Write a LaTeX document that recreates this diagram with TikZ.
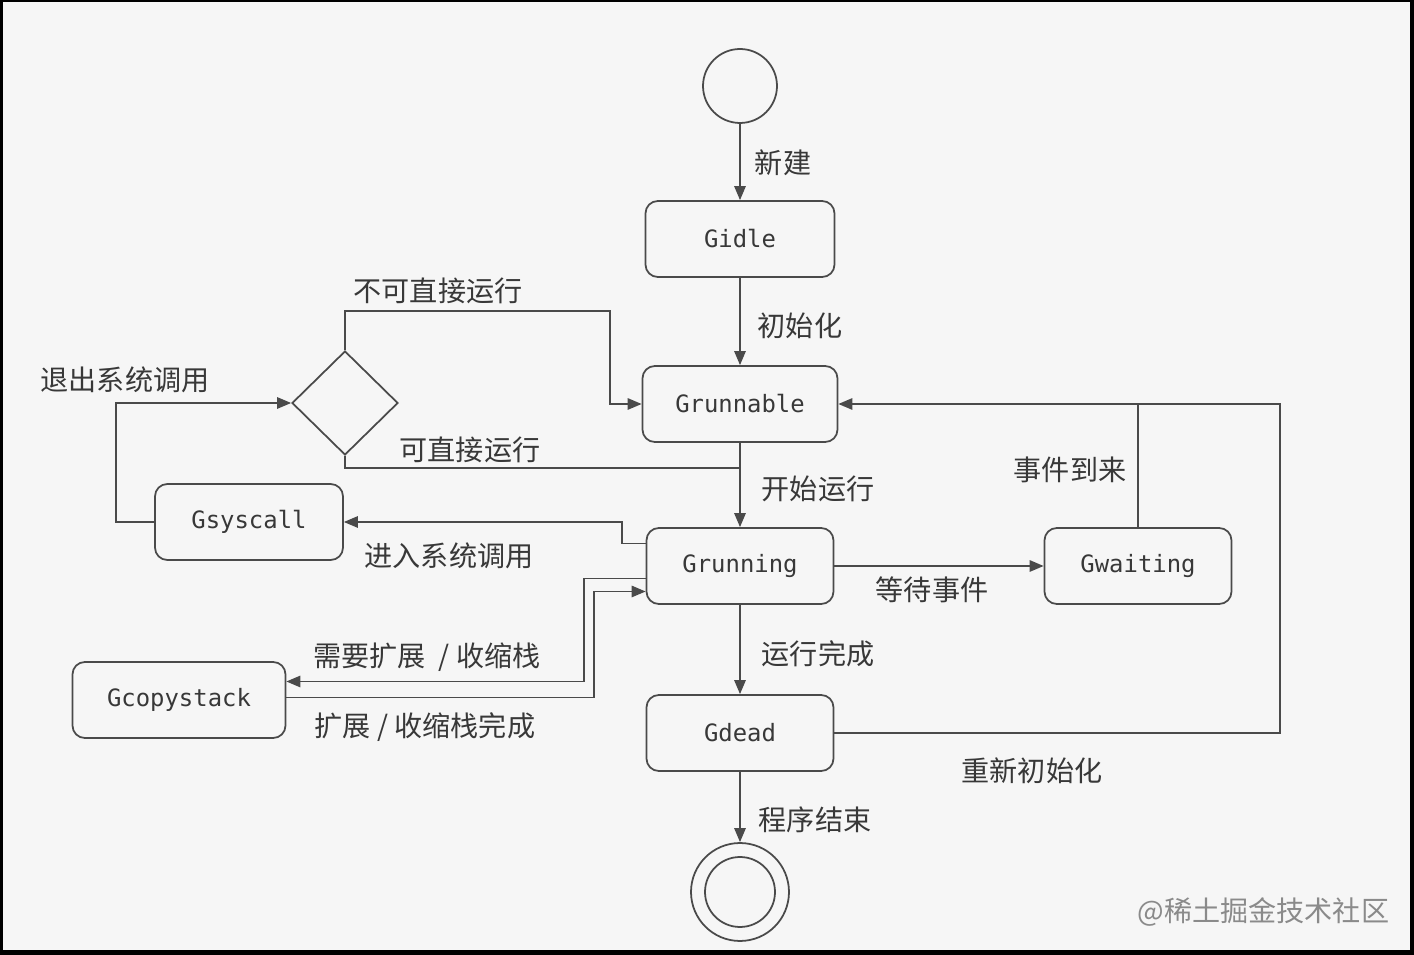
\documentclass[tikz,border=0pt]{standalone}
\usepackage{fontspec}
\setmonofont{DejaVu Sans Mono}
\newfontfamily\cjk{Noto Sans CJK SC}
\usetikzlibrary{arrows.meta,shapes.geometric}
\definecolor{ink}{HTML}{4A4A4A}
\definecolor{txt}{HTML}{383838}
\definecolor{paper}{HTML}{F6F6F6}
\definecolor{mark}{HTML}{8A8A8A}
\begin{document}
\begin{tikzpicture}[x=0.02cm,y=-0.02cm,
  color=ink, line width=1pt,
  arr/.style={-{Triangle[length=8pt,width=6.5pt]}},
  state/.style={draw, rounded corners=7pt, inner sep=0pt,
    minimum width=3.74cm, minimum height=1.52cm,
    font=\ttfamily\fontsize{13.6}{16}\selectfont, text=txt},
  lbl/.style={font=\cjk\fontsize{16}{19}\selectfont, text=txt, inner sep=0pt},
  pseudo/.style={draw, inner sep=0pt},
]
% frame and paper
\fill[black] (0,0) rectangle (1414,955);
\fill[paper] (3,2) rectangle (1410,950);
\useasboundingbox (0,0) rectangle (1414,955);

% states
\node[pseudo, circle, minimum size=1.48cm] (start) at (740,86) {};
\node[state, minimum width=3.78cm] (gidle) at (740,239) {Gidle};
\node[state, minimum width=3.9cm] (grunnable) at (740,404) {Grunnable};
\node[state] (grunning) at (740,566) {Grunning};
\node[state] (gwaiting) at (1138,566) {Gwaiting};
\node[state] (gdead) at (740,733) {Gdead};
\node[state, minimum width=3.76cm] (gsys) at (249,522) {Gsyscall};
\node[state, minimum width=4.26cm] (gcopy) at (179,700) {Gcopystack};
\node[pseudo, diamond, minimum width=2.12cm, minimum height=2.08cm] (dia) at (345,403) {};
\node[pseudo, circle, minimum size=1.96cm] (end) at (740,892) {};
\node[pseudo, circle, minimum size=1.4cm] (endin) at (740,892) {};

% main column
\draw[arr] (start) -- (gidle);
\draw[arr] (gidle) -- (grunnable);
\draw[arr] (grunnable) -- (grunning);
\draw[arr] (grunning) -- (gdead);
\draw[arr] (gdead) -- (end);

% waiting and re-initialisation
\draw[arr] (grunning) -- (gwaiting);
\draw (gwaiting.north) -- (gwaiting.north |- grunnable.east);
\draw[arr] (gdead.east) -- ++(446,0) |- (grunnable.east);

% decision after leaving the system call
\draw[arr] (dia.north) |- (610,311) |- (grunnable.west);
\draw (dia.south) |- (grunnable.south |- 0,468);
\draw[arr] (gsys.west) -- ++(-38,0) |- (dia.west);

% system call and stack copy
\draw[arr] ([yshift=0.45cm]grunning.west) -- ++(-24,0) |- (gsys.east);
\draw[arr] ([yshift=-0.25cm]grunning.west) -- ++(-62,0) |- ([yshift=0.37cm]gcopy.east);
\draw[arr] ([yshift=0.05cm]gcopy.east) -| (594,640) |- ([yshift=-0.51cm]grunning.west);

% transition labels
\node[lbl] (l1) at (783,163) {新建};
\node[lbl] (l2) at (800,326) {初始化};
\node[lbl] (l3) at (438,291) {不可直接运行};
\node[lbl] (l4) at (125,380) {退出系统调用};
\node[lbl] (l5) at (470,450) {可直接运行};
\node[lbl] (l6) at (818,489) {开始运行};
\node[lbl] (l7) at (449,556) {进入系统调用};
\node[lbl] (l8) at (932,590) {等待事件};
\node[lbl] (l9) at (1070,470) {事件到来};
\node[lbl] (l10) at (818,654) {运行完成};
\node[lbl] (l11) at (427,657) {需要扩展~~/ 收缩栈};
\node[lbl] (l12) at (425,727) {扩展 / 收缩栈完成};
\node[lbl] (l13) at (1032,771) {重新初始化};
\node[lbl] (l14) at (815,820) {程序结束};

% watermark
\node[lbl, text=mark, anchor=east] (wm) at (1390,912) {@稀土掘金技术社区};
\end{tikzpicture}
\end{document}
